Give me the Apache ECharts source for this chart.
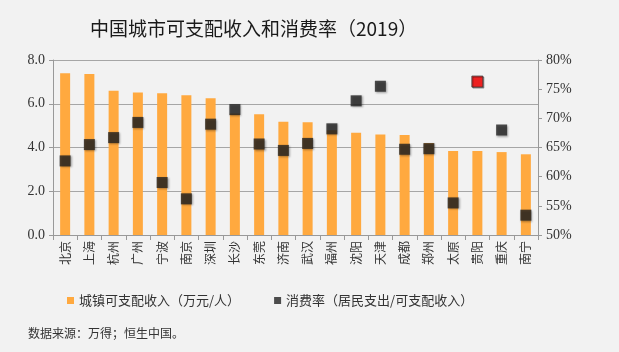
<!DOCTYPE html>
<html>
<head>
<meta charset="utf-8">
<script src="https://cdn.jsdelivr.net/npm/echarts@6/dist/echarts.min.js"></script>
<style>
  html, body { margin: 0; padding: 0; background: #f2f2f2; }
  #main { width: 619px; height: 352px; }
</style>
</head>
<body>
<div id="main"></div>
<script>
var cities = ['北京', '上海', '杭州', '广州', '宁波', '南京', '深圳', '长沙', '东莞', '济南',
	'武汉', '福州', '沈阳', '天津', '成都', '郑州', '太原', '贵阳', '重庆', '南宁'];
// 城镇可支配收入（万元/人）
var incomeValues = [7.39, 7.36, 6.60, 6.51, 6.48, 6.39, 6.25, 5.56, 5.52, 5.18,
	5.16, 4.79, 4.68, 4.60, 4.57, 4.21, 3.84, 3.84, 3.79, 3.69];
// 消费率（%）
var rateValues = [62.7, 65.5, 66.7, 69.3, 59.0, 56.2, 69.0, 71.5, 65.6, 64.5,
	65.7, 68.2, 73.0, 75.5, 64.7, 64.8, 55.5, 76.3, 68.0, 53.4];
var highlightCity = '贵阳';

var serif = '"Liberation Serif", "DejaVu Serif", serif';
var cjk = '"Noto Sans CJK SC", sans-serif';

var rateData = rateValues.map(function (v, i) {
	if (cities[i] === highlightCity) {
		return { value: v, itemStyle: { color: '#ff0000', borderColor: '#333', borderWidth: 1, shadowBlur: 0 } };
	}
	return v;
});

var chart = echarts.init(document.getElementById('main'));
var option = {
	backgroundColor: '#f2f2f2',
	animation: false,
	title: {
		text: '中国城市可支配收入和消费率（2019）',
		left: 85,
		top: 14,
		textStyle: { fontFamily: cjk, fontSize: 19, fontWeight: 'normal', color: '#1a1a1a' }
	},
	legend: {
		left: 62,
		top: 289,
		itemGap: 34,
		itemWidth: 7,
		itemHeight: 7,
		textStyle: { fontFamily: cjk, fontSize: 13, color: '#333' },
		data: [
			{ name: '城镇可支配收入（万元/人）', icon: 'rect' },
			{ name: '消费率（居民支出/可支配收入）', icon: 'rect' }
		]
	},
	graphic: [{
		type: 'text',
		left: 28,
		top: 327,
		style: { text: '数据来源：万得；恒生中国。', font: '12px "Noto Sans CJK SC"', fill: '#333' }
	}],
	grid: { left: 53, right: 81, top: 60, bottom: 117 },
	xAxis: {
		type: 'category',
		data: cities,
		axisLine: { lineStyle: { color: '#999' } },
		axisTick: { show: true, alignWithLabel: false, length: 5, lineStyle: { color: '#999' } },
		axisLabel: { rotate: 90, fontFamily: cjk, fontSize: 12, color: '#333', margin: 6 }
	},
	yAxis: [{
		type: 'value',
		min: 0,
		max: 8,
		interval: 2,
		axisLine: { show: true, lineStyle: { color: '#999' } },
		axisTick: { show: true, length: 4, lineStyle: { color: '#999' } },
		axisLabel: {
			fontFamily: serif, fontSize: 14, color: '#333', margin: 8,
			formatter: function (v) { return v.toFixed(1); }
		},
		splitLine: { lineStyle: { color: '#a6a6a6', width: 1 } }
	}, {
		type: 'value',
		min: 50,
		max: 80,
		interval: 5,
		position: 'right',
		axisLine: { show: true, lineStyle: { color: '#999' } },
		axisTick: { show: true, length: 4, lineStyle: { color: '#999' } },
		axisLabel: { fontFamily: serif, fontSize: 14, color: '#333', margin: 8, formatter: '{value}%' },
		splitLine: { show: false }
	}],
	series: [{
		name: '城镇可支配收入（万元/人）',
		type: 'bar',
		data: incomeValues,
		barWidth: 10,
		itemStyle: { color: '#ffa93f' }
	}, {
		name: '消费率（居民支出/可支配收入）',
		type: 'scatter',
		yAxisIndex: 1,
		data: rateData,
		symbol: 'rect',
		symbolSize: 11,
		itemStyle: { color: '#222', shadowBlur: 2, shadowColor: 'rgba(0,0,0,0.4)', shadowOffsetX: 1, shadowOffsetY: 1 },
		z: 5
	}]
};
chart.setOption(option);
</script>
</body>
</html>
